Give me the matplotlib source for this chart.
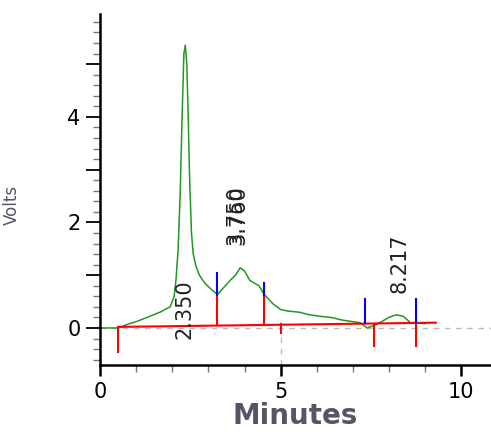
import matplotlib.pyplot as plt
from matplotlib.ticker import MultipleLocator, FuncFormatter

# chromatogram trace
minutes = [0, 0.5, 0.8, 1.0, 1.3, 1.66, 1.94, 2.05, 2.1, 2.16, 2.22, 2.27,
           2.32, 2.36, 2.4, 2.44, 2.48, 2.53, 2.58, 2.65, 2.75, 2.9, 3.05,
           3.25, 3.4, 3.6, 3.75, 3.88, 4.0, 4.15, 4.4, 4.55, 4.8, 5.0, 5.2,
           5.5, 5.8, 6.1, 6.4, 6.7, 7.0, 7.2, 7.4, 7.6, 7.8, 8.0, 8.2, 8.4,
           8.6, 8.8, 9.0]
volts = [0, 0.0, 0.08, 0.12, 0.2, 0.3, 0.4, 0.6, 0.9, 1.48, 2.6, 4.0,
         5.2, 5.36, 5.0, 4.0, 2.8, 1.8, 1.4, 1.18, 1.0, 0.85, 0.75,
         0.63, 0.75, 0.9, 1.0, 1.14, 1.08, 0.9, 0.8, 0.63, 0.45, 0.35,
         0.32, 0.3, 0.25, 0.22, 0.2, 0.15, 0.12, 0.1, 0.0, 0.05, 0.12,
         0.2, 0.25, 0.22, 0.1, 0.1, 0.08]

# integration baseline
base_x = [0.5, 9.3]
base_y = [0.02, 0.1]

# peak boundary markers: x, red low, red high, blue low, blue high
marks_x = [0.5, 3.25, 4.55, 5.0, 7.35, 7.6, 8.75]
red_lo = [-0.45, 0.05, 0.07, -0.1, 0.08, -0.35, -0.35]
red_hi = [0.02, 0.63, 0.63, 0.07, 0.08, 0.08, 0.1]
blue_lo = [None, 0.63, 0.63, None, 0.1, None, 0.1]
blue_hi = [None, 1.05, 0.85, None, 0.55, None, 0.55]

# peak labels
peak_labels = ['2.350', '3.750', '3.760', '8.217']
label_x = [2.35, 3.75, 3.82, 8.3]
label_y = [-0.2, 1.57, 1.57, 0.66]

fig = plt.figure(figsize=(4.91, 4.37), dpi=100)
ax = fig.add_axes([0.204, 0.165, 0.796, 0.803])

ax.axhline(0, color='#bbbbbb', ls=(0, (4, 4)), lw=1, zorder=0)
ax.axvline(5, color='#bbbbbb', ls=(0, (4, 4)), lw=1, ymax=0.1, zorder=0)

ax.plot(minutes, volts, color='#239623', lw=1.1, zorder=2)
ax.plot(base_x, base_y, color='red', lw=1.5, zorder=3)

for x, rl, rh, bl, bh in zip(marks_x, red_lo, red_hi, blue_lo, blue_hi):
    ax.plot([x, x], [rl, rh], color='red', lw=1.5, zorder=3)
    if bl is not None:
        ax.plot([x, x], [bl, bh], color='blue', lw=1.5, zorder=3)

for t, x, y in zip(peak_labels, label_x, label_y):
    ax.text(x, y, t, rotation=90, ha='center', va='bottom', fontsize=15,
            color='#222222')

ax.set_xlim(0, 10.83)
ax.set_ylim(-0.7, 5.95)
ax.xaxis.set_major_locator(MultipleLocator(5))
ax.xaxis.set_minor_locator(MultipleLocator(1))
ax.yaxis.set_major_locator(MultipleLocator(1))
ax.yaxis.set_minor_locator(MultipleLocator(0.2))
ax.yaxis.set_major_formatter(
    FuncFormatter(lambda v, p: f'{v:.0f}' if round(v) % 2 == 0 else ''))
ax.tick_params(which='major', length=10, width=1.3, labelsize=15, pad=4)
ax.tick_params(axis='x', which='major', length=8, width=1.8)
ax.tick_params(which='minor', length=5, width=1, color='#777777')

for s in ['top', 'right']:
    ax.spines[s].set_visible(False)
for s in ['left', 'bottom']:
    ax.spines[s].set_linewidth(1.8)

ax.set_xlabel('Minutes', fontsize=20, fontweight='bold', color='#555566',
              labelpad=0)
ax.set_ylabel('Volts', fontsize=12, color='#555566')
ax.yaxis.set_label_coords(-0.202, 0.456)

fig.savefig('out.png', dpi=100)
